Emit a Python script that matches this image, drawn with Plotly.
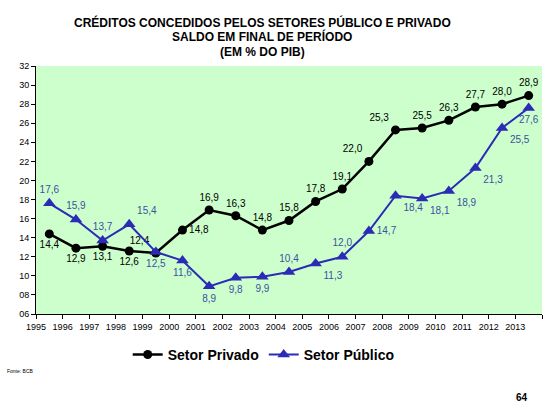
import plotly.graph_objs as go

# dados (% do PIB), saldo em final de período
anos = [1995, 1996, 1997, 1998, 1999, 2000, 2001, 2002, 2003, 2004,
        2005, 2006, 2007, 2008, 2009, 2010, 2011, 2012, 2013]
privado = [14.4, 12.9, 13.1, 12.6, 12.4, 14.8, 16.9, 16.3, 14.8, 15.8,
           17.8, 19.1, 22.0, 25.3, 25.5, 26.3, 27.7, 28.0, 28.9]
publico = [17.6, 15.9, 13.7, 15.4, 12.5, 11.6, 8.9, 9.8, 9.9, 10.4,
           11.3, 12.0, 14.7, 18.4, 18.1, 18.9, 21.3, 25.5, 27.6]

# posição dos rótulos de cada ponto
pos_privado = ['bottom center', 'bottom center', 'bottom center', 'bottom center', 'top left',
               'middle right', 'top center', 'top center', 'top center', 'top center',
               'top center', 'top center', 'top left', 'top left', 'top center',
               'top center', 'top center', 'top center', 'top center']
pos_publico = ['top center', 'top center', 'top center', 'top right', 'bottom center',
               'bottom center', 'bottom center', 'bottom center', 'bottom center', 'top center',
               'bottom right', 'top center', 'middle right', 'bottom right', 'bottom right',
               'bottom right', 'bottom right', 'bottom right', 'bottom center']

# eixo y: rótulos com zero à esquerda
y_ticks = list(range(6, 33, 2))
y_labels = ['%02d' % v for v in y_ticks]

# eixo x: rótulos nas marcas, pontos no meio do intervalo
x_ticks = anos + [anos[-1] + 1]
x_labels = [str(a) for a in anos] + ['']
x_pontos = [a + 0.5 for a in anos]

titulo = ['CRÉDITOS CONCEDIDOS PELOS SETORES PÚBLICO E PRIVADO',
          'SALDO EM FINAL DE PERÍODO',
          '(EM % DO PIB)']

def fmt(v):
    return ('%.1f' % v).replace('.', ',')

fig = go.Figure()

fig.add_trace(go.Scatter(
    x=x_pontos, y=privado, name='Setor Privado', mode='lines+markers+text',
    line=dict(color='black', width=2.5),
    marker=dict(symbol='circle', size=9, color='black'),
    text=[fmt(v) for v in privado], textposition=pos_privado,
    textfont=dict(family='Arial', size=10, color='black')))

fig.add_trace(go.Scatter(
    x=x_pontos, y=publico, name='Setor Público', mode='lines+markers+text',
    line=dict(color='#2B2BB5', width=2),
    marker=dict(symbol='triangle-up', size=11, color='#2B2BB5'),
    text=[fmt(v) for v in publico], textposition=pos_publico,
    textfont=dict(family='Arial', size=10, color='#3C50A0')))

fig.update_layout(
    width=557, height=419,
    margin=dict(l=36, r=15, t=66, b=105),
    paper_bgcolor='white', plot_bgcolor='#CCFFCC',
    font=dict(family='Arial', color='black'),
    showlegend=True,
    legend=dict(orientation='h', x=0.45, xanchor='center', y=-0.165, yanchor='middle',
                font=dict(family='Arial', size=14, color='black', weight='bold'),
                itemwidth=30, traceorder='normal'),
)

fig.update_xaxes(range=[anos[0], anos[-1] + 1], tickvals=x_ticks, ticktext=x_labels,
                 showgrid=False, zeroline=False, showline=True, linecolor='black', linewidth=1,
                 ticks='outside', ticklen=4, tickcolor='black',
                 tickfont=dict(family='Arial', size=9, color='black'))
fig.update_yaxes(range=[6, 32], tickvals=y_ticks, ticktext=y_labels,
                 showgrid=False, zeroline=False, showline=True, linecolor='black', linewidth=1,
                 ticks='outside', ticklen=4, tickcolor='black',
                 tickfont=dict(family='Arial', size=9, color='black'))

# título em três linhas
for linha, yy in zip(titulo, [1.177, 1.117, 1.056]):
    fig.add_annotation(text=linha, xref='paper', yref='paper', x=0.447, y=yy,
                       xanchor='center', yanchor='middle', showarrow=False,
                       font=dict(family='Arial', size=12, color='black', weight='bold'))

# fonte e número da página
fig.add_annotation(text='Fonte: BCB', xref='paper', yref='paper', x=-0.061, y=-0.23,
                   xanchor='left', yanchor='middle', showarrow=False,
                   font=dict(family='Arial', size=5, color='black'))
fig.add_annotation(text='64', xref='paper', yref='paper', x=0.96, y=-0.335,
                   xanchor='center', yanchor='middle', showarrow=False,
                   font=dict(family='Arial', size=10, color='black', weight='bold'))

fig.write_html('out.html', config={'displayModeBar': False},
               post_script="document.body.style.margin='0';")
